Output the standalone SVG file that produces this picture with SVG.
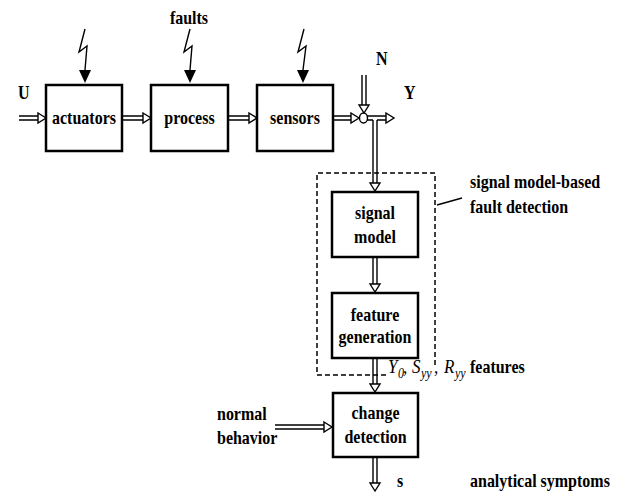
<svg xmlns="http://www.w3.org/2000/svg" width="623" height="495" viewBox="0 0 623 495">
  <style>
    .box { fill: #fff; stroke: #000; stroke-width: 2.5; }
    .lbl { font-family: "Liberation Serif", "Times New Roman", serif; font-weight: bold; font-size: 16px; fill: #000; }
    .mid { text-anchor: middle; }
    .rail { stroke: #000; stroke-width: 1.4; fill: none; }
    .head { fill: #fff; stroke: #000; stroke-width: 1.4; stroke-linejoin: miter; }
    .bolt { fill: none; stroke: #000; stroke-width: 1.4; }
    .dash { fill: none; stroke: #000; stroke-width: 1.5; stroke-dasharray: 5 3; }
    .math { font-family: "Liberation Serif", "Times New Roman", serif; font-style: italic; font-size: 17px; fill: #000; }
    .sub { font-size: 12px; }
  </style>
  <rect width="623" height="495" fill="#fff"/>

  <!-- dashed frame around the signal model stages -->
  <g id="frame">
    <path class="dash" d="M386 375 H317 V173 H435 V368"/>
    <line x1="437" y1="205" x2="462" y2="198" stroke="#000" stroke-width="1.3"/>
    <text class="lbl" x="470" transform="translate(0 188) scale(1 1.2)">signal model-based</text>
    <text class="lbl" x="470" transform="translate(0 213) scale(1 1.2)">fault detection</text>
  </g>

  <!-- double-line signal arrows -->
  <g id="connectors">
    <!-- U -> actuators -->
    <path class="rail" d="M19 116 H38 M19 120 H38"/>
    <path class="head" d="M38 113 L46 118 L38 123 Z"/>
    <!-- actuators -> process -->
    <path class="rail" d="M122 116 H143 M122 120 H143"/>
    <path class="head" d="M143 113 L151 118 L143 123 Z"/>
    <!-- process -> sensors -->
    <path class="rail" d="M228 116 H249 M228 120 H249"/>
    <path class="head" d="M249 113 L257 118 L249 123 Z"/>
    <!-- sensors -> summing point -->
    <path class="rail" d="M333 116 H351 M333 120 H351"/>
    <path class="head" d="M351 113 L359 118 L351 123 Z"/>
    <!-- summing point -> Y -->
    <path class="rail" d="M367 116 H386 M367 120 H373 M377 120 H386"/>
    <path class="head" d="M386 113 L394 118 L386 123 Z"/>
    <!-- N -> summing point -->
    <path class="rail" d="M362 75 V105 M366 75 V105"/>
    <path class="head" d="M359 105 L364 113 L369 105 Z"/>
    <ellipse cx="363.5" cy="118" rx="4" ry="5" fill="#fff" stroke="#000" stroke-width="1.4"/>
    <!-- Y branch -> signal model -->
    <path class="rail" d="M373 120 V183 M377 120 V183"/>
    <path class="head" d="M370 183 L375 191 L380 183 Z"/>
    <!-- signal model -> feature generation -->
    <path class="rail" d="M373 258 V284 M377 258 V284"/>
    <path class="head" d="M370 284 L375 292 L380 284 Z"/>
    <!-- feature generation -> change detection -->
    <path class="rail" d="M373 359 V384 M377 359 V384"/>
    <path class="head" d="M370 384 L375 392 L380 384 Z"/>
    <!-- normal behavior -> change detection -->
    <path class="rail" d="M275 425 H324 M275 429 H324"/>
    <path class="head" d="M324 422 L332 427 L324 432 Z"/>
    <!-- change detection -> s -->
    <path class="rail" d="M373 458 V483 M377 458 V483"/>
    <path class="head" d="M370 483 L375 491 L380 483 Z"/>

    <!-- fault injections -->
    <path class="bolt" d="M85 29 L79 52 L87 46 L85 70"/>
    <path d="M79 70 L91 70 L85 83 Z" fill="#000"/>
    <path class="bolt" d="M190 29 L184 52 L192 46 L190 70"/>
    <path d="M184 70 L196 70 L190 83 Z" fill="#000"/>
    <path class="bolt" d="M304 29 L298 52 L306 46 L303 70"/>
    <path d="M297 70 L309 70 L303 83 Z" fill="#000"/>
  </g>

  <g id="actuators">
    <rect class="box" x="46" y="85" width="76" height="66"/>
    <text class="lbl mid" x="84" transform="translate(0 124) scale(1 1.2)">actuators</text>
  </g>
  <g id="process">
    <rect class="box" x="151" y="85" width="77" height="66"/>
    <text class="lbl mid" x="189.5" transform="translate(0 124) scale(1 1.2)">process</text>
  </g>
  <g id="sensors">
    <rect class="box" x="257" y="85" width="76" height="66"/>
    <text class="lbl mid" x="295" transform="translate(0 124) scale(1 1.2)">sensors</text>
  </g>
  <g id="signal-model">
    <rect class="box" x="332" y="192" width="86" height="65"/>
    <text class="lbl mid" x="375" transform="translate(0 219) scale(1 1.2)">signal</text>
    <text class="lbl mid" x="375" transform="translate(0 243) scale(1 1.2)">model</text>
  </g>
  <g id="feature-generation">
    <rect class="box" x="332" y="293" width="86" height="65"/>
    <text class="lbl mid" x="375" transform="translate(0 321) scale(1 1.2)">feature</text>
    <text class="lbl mid" x="375" transform="translate(0 343) scale(1 1.2)">generation</text>
  </g>
  <g id="change-detection">
    <rect class="box" x="333" y="393" width="85" height="64"/>
    <text class="lbl mid" x="375.5" transform="translate(0 419) scale(1 1.2)">change</text>
    <text class="lbl mid" x="375.5" transform="translate(0 443) scale(1 1.2)">detection</text>
  </g>

  <!-- signal names and annotations -->
  <g id="labels">
    <text class="lbl mid" x="189" transform="translate(0 24) scale(1 1.2)">faults</text>
    <text class="lbl" x="18" transform="translate(0 99) scale(1 1.2)">U</text>
    <text class="lbl" x="376" transform="translate(0 65) scale(1 1.2)">N</text>
    <text class="lbl" x="404" transform="translate(0 99) scale(1 1.2)">Y</text>
    <text class="math" transform="translate(0 373) scale(1 1.15)"><tspan x="388">Y</tspan><tspan class="sub" x="398" dy="4">0</tspan><tspan x="403" dy="-4">,</tspan><tspan x="412">S</tspan><tspan class="sub" x="421" dy="4">yy</tspan><tspan x="434" dy="-4">,</tspan><tspan x="444">R</tspan><tspan class="sub" x="455" dy="4">yy</tspan></text>
    <text class="lbl" x="470" transform="translate(0 373) scale(1 1.2)">features</text>
    <text class="lbl" x="217" transform="translate(0 420) scale(1 1.2)">normal</text>
    <text class="lbl" x="217" transform="translate(0 444) scale(1 1.2)">behavior</text>
    <text class="lbl" x="397" transform="translate(0 487) scale(1 1.2)">s</text>
    <text class="lbl" x="470" transform="translate(0 487) scale(1 1.2)">analytical symptoms</text>
  </g>
</svg>
